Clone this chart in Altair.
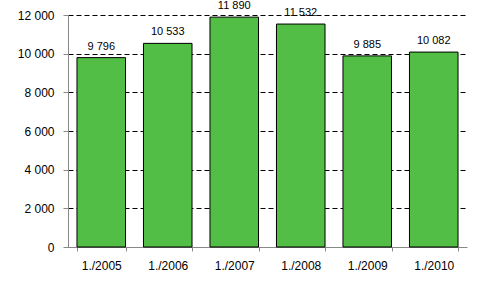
import altair as alt
import pandas as pd

categories = ["1./2005", "1./2006", "1./2007", "1./2008", "1./2009", "1./2010"]
values = [9796, 10533, 11890, 11532, 9885, 10082]

df = pd.DataFrame({"cat": categories, "val": values})

FONT = "Liberation Sans"

base = alt.Chart(df).transform_calculate(
    lbl="replace(format(datum.val, ','), ',', ' ')"
)

xscale = alt.Scale(paddingInner=0.27, paddingOuter=0.135)
yscale = alt.Scale(domain=[0, 12000], nice=False)

xaxis = alt.Axis(labelAngle=0, tickBand="extent", domainColor="#888888",
                 tickColor="#888888", tickSize=4, labelFont=FONT,
                 labelFontSize=12, labelColor="#000000", labelPadding=9,
                 labelOverlap=False, grid=False)
yaxis = alt.Axis(values=[0, 2000, 4000, 6000, 8000, 10000, 12000],
                 labelExpr="replace(format(datum.value, ','), ',', ' ')",
                 domainColor="#888888", tickColor="#888888", tickSize=5,
                 grid=True,
                 gridColor="#000000", gridDash=[5, 3], gridWidth=1,
                 labelFont=FONT, labelFontSize=12, labelColor="#000000",
                 labelPadding=9, labelOverlap=False)

x = alt.X("cat:N", sort=None, title=None, scale=xscale, axis=xaxis)
y = alt.Y("val:Q", title=None, scale=yscale, axis=yaxis)

bars = base.mark_bar(color="#52BE45", stroke="#000000", strokeWidth=1).encode(x=x, y=y)
text = base.mark_text(dy=-8, font=FONT, fontSize=11, color="#000000",
                      baseline="alphabetic").encode(x=x, y=y, text="lbl:N")

chart = alt.layer(bars, text).properties(
    width=399, height=232,
    autosize=alt.AutoSizeParams(type="none"),
    padding={"left": 68, "top": 15, "right": 15, "bottom": 43},
).configure_view(stroke=None)

chart.save("out.html", embed_options={"renderer": "svg", "actions": False})
